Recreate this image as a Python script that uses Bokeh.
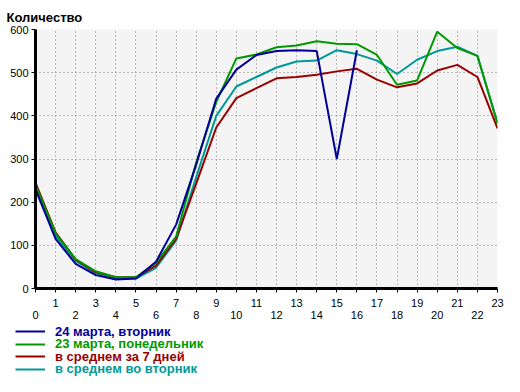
from bokeh.plotting import figure
from bokeh.layouts import column
from bokeh.models import Legend, LegendItem, Range1d, FixedTicker
from bokeh.embed import file_html
from bokeh.resources import INLINE

hours = list(range(24))
tue_24 = [230, 115, 57, 31, 21, 23, 62, 148, 287, 440, 507, 541, 550, 552, 550, 300, 552]
mon_23 = [240, 128, 68, 40, 26, 26, 60, 120, 292, 432, 533, 542, 559, 563, 573, 567, 566, 541, 472, 482, 595, 557, 539, 382]
avg_7 = [245, 130, 67, 38, 26, 26, 53, 115, 243, 373, 441, 464, 487, 490, 495, 503, 509, 484, 466, 475, 505, 518, 490, 371]
avg_tue = [235, 122, 64, 35, 23, 23, 48, 111, 258, 400, 468, 490, 512, 526, 528, 552, 543, 528, 497, 530, 550, 560, 539, 384]

names = ["24 марта, вторник", "23 марта, понедельник", "в среднем за 7 дней", "в среднем во вторник"]
colors = ["#000099", "#009900", "#990000", "#009999"]
y_ticks = [0, 100, 200, 300, 400, 500, 600]
title_text = "Количество"

FONT = "Liberation Sans"

p = figure(width=504, height=324, output_backend="svg", toolbar_location=None,
           x_range=Range1d(0, 23), y_range=Range1d(0, 600),
           min_border_left=35, min_border_right=7, min_border_top=29, min_border_bottom=36)
p.frame_align = False
p.background_fill_color = "#f4f4f4"
p.border_fill_color = "white"
p.outline_line_color = None

p.title.text = title_text
p.title.text_font = FONT
p.title.text_font_size = "13px"
p.title.text_font_style = "bold"
p.title.text_color = "black"
p.title.align = "left"
p.title.vertical_align = "top"
p.title.text_line_height = 0.7
p.title.offset = -29
p.title.standoff = 6

p.xaxis.ticker = FixedTicker(ticks=hours)
p.xaxis.major_label_overrides = {h: (str(h) if h % 2 else "\n" + str(h)) for h in hours}
p.yaxis.ticker = FixedTicker(ticks=y_ticks)
for ax in (p.xaxis[0], p.yaxis[0]):
    ax.axis_line_width = 3
    ax.axis_line_color = "black"
    ax.major_tick_line_color = "black"
    ax.major_tick_in = 0
    ax.major_tick_out = 4
    ax.minor_tick_line_color = None
    ax.major_label_text_font = FONT
    ax.major_label_text_font_size = "11px"
    ax.major_label_text_color = "black"
p.xaxis.major_label_standoff = 4
p.xaxis.major_label_text_line_height = 1.0
p.yaxis.major_label_standoff = 3

for g in (p.xgrid[0], p.ygrid[0]):
    g.grid_line_color = "#808080"
    g.grid_line_dash = "1 3"
    g.grid_line_width = 1

series = [tue_24, mon_23, avg_7, avg_tue]
for idx in [3, 2, 1, 0]:
    ys = series[idx]
    p.line(hours[:len(ys)], ys, line_color=colors[idx], line_width=2)

# legend strip below the chart; its lines use the same data but lie outside its view
leg_h = 52
q = figure(width=504, height=leg_h, output_backend="svg", toolbar_location=None,
           x_range=Range1d(0, 23), y_range=Range1d(-2, -1),
           x_axis_location=None, y_axis_location=None,
           min_border_left=0, min_border_right=0, min_border_top=0, min_border_bottom=0)
q.frame_align = False
q.grid.visible = False
q.outline_line_color = None
q.background_fill_color = "white"
q.border_fill_color = "white"

row_y = [37.5, 25, 12.5, 0]
for i in range(4):
    ys = series[i]
    r = q.line(hours[:len(ys)], ys, line_color=colors[i], line_width=2)
    lg = Legend(items=[LegendItem(label=names[i], renderers=[r])],
                location=(15, row_y[i]), padding=0, margin=0, spacing=0,
                glyph_width=30, glyph_height=12, label_height=12, label_standoff=10,
                border_line_color=None, background_fill_alpha=0,
                label_text_color=colors[i], label_text_font=FONT,
                label_text_font_style="bold", label_text_font_size="13px")
    q.add_layout(lg)

layout = column(p, q, spacing=0)
open("out.html", "w").write(file_html(layout, INLINE))
